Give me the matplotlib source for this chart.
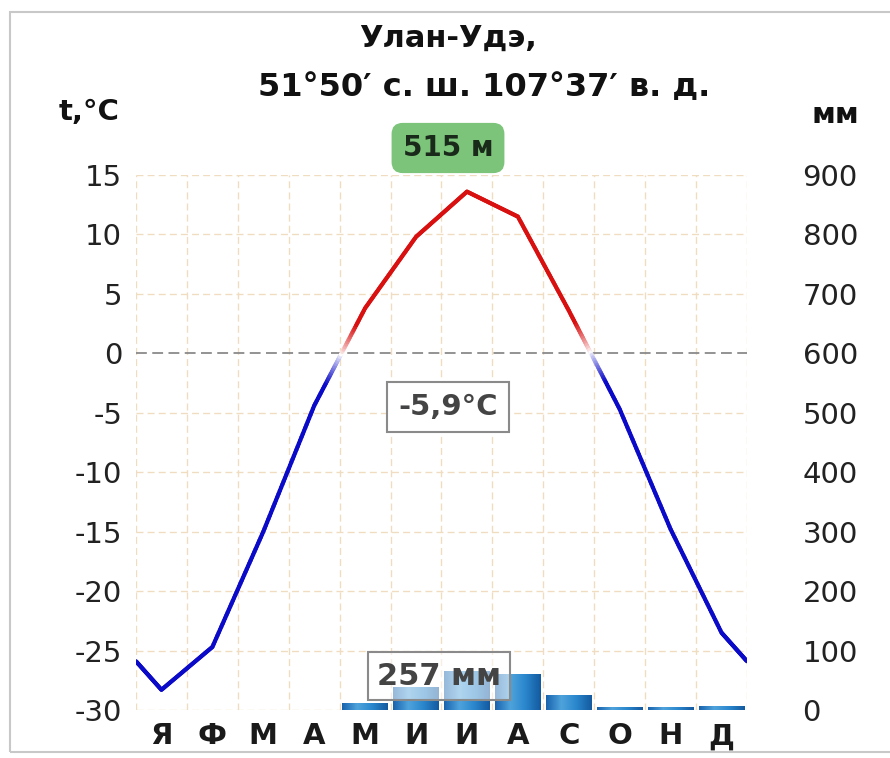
import numpy as np
import matplotlib
matplotlib.use("Agg")
import matplotlib.pyplot as plt
from matplotlib.collections import LineCollection
from matplotlib.colors import to_rgb, LinearSegmentedColormap
from matplotlib.patches import Rectangle

# ── Data ──────────────────────────────────────────────────────────────────────
MONTHS = ['Я', 'Ф', 'М', 'А', 'М', 'И', 'И', 'А', 'С', 'О', 'Н', 'Д']
TEMP   = [-28.3, -24.7, -15.0, -4.4, 3.8, 9.8, 13.6, 11.5, 3.6, -4.7, -14.8, -23.5]
PRECIP = [0, 0, 0, 0, 12, 38, 65, 60, 25, 5, 5, 6]

TITLE_1   = "Улан-Удэ,"
TITLE_2   = "51°50′ с. ш. 107°37′ в. д."
ALTITUDE  = "515 м"
MEAN_T    = "-5,9°C"
TOTAL_P   = "257 мм"

T_TICKS = list(range(-30, 16, 5))
P_TICKS = list(range(0, 901, 100))

RED   = "#d81010"
BLUE  = "#0a0ac8"
FADE  = 2.5   # °C band around zero where the line fades out

plt.rcParams['font.family'] = ['DejaVu Sans']
plt.rcParams['axes.unicode_minus'] = False

W, H = 890, 758
fig = plt.figure(figsize=(W / 100, H / 100), dpi=100)
fig.patch.set_facecolor("white")

# card frame
fig.patches.append(Rectangle((10 / W, 6 / H), 890 / W, 740 / H, transform=fig.transFigure,
                             fill=False, ec="#c8c8c8", lw=1.5))

L, R, T, B = 136, 747, 175, 710
ax = fig.add_axes([L / W, 1 - B / H, (R - L) / W, (B - T) / H])
ax2 = ax.twinx()

# ── Temperature axis ──────────────────────────────────────────────────────────
ax.set_xlim(0, 12)
ax.set_ylim(-30, 15)
ax.set_yticks(T_TICKS)
ax.set_yticklabels([str(t) for t in T_TICKS])
ax.set_xticks(np.arange(12) + 0.5)
ax.set_xticklabels(MONTHS, fontsize=21, fontweight="bold", color="#1a1a1a")
ax.tick_params(axis="x", length=0, pad=9)
ax.tick_params(axis="y", length=0, pad=10, labelsize=21, labelcolor="#222222")
for s in ax.spines.values():
    s.set_visible(False)

for x in range(13):
    ax.axvline(x, color="#f0dcc0", lw=1.0, ls=(0, (5, 3)), zorder=0)
for y in T_TICKS:
    if y != 0:
        ax.axhline(y, color="#f0dcc0", lw=1.0, ls=(0, (5, 3)), zorder=0)
ax.axhline(0, color="#8a8a8a", lw=1.3, ls=(0, (6, 3)), zorder=1)

# temperature line, wrapped at the year edges, faded near 0 °C
edge = (TEMP[0] + TEMP[-1]) / 2
xs = np.concatenate([[0], np.arange(12) + 0.5, [12]])
ys = np.concatenate([[edge], TEMP, [edge]])
segs, cols = [], []
red, blue, white = np.array(to_rgb(RED)), np.array(to_rgb(BLUE)), np.ones(3)
for i in range(len(xs) - 1):
    n = 40
    px = np.linspace(xs[i], xs[i + 1], n + 1)
    py = np.linspace(ys[i], ys[i + 1], n + 1)
    for j in range(n):
        tm = (py[j] + py[j + 1]) / 2
        base = red if tm > 0 else blue
        k = min(1.0, abs(tm) / FADE) ** 0.8
        cols.append(white * (1 - k) + base * k)
        segs.append([(px[j], py[j]), (px[j + 1], py[j + 1])])
lc = LineCollection(segs, colors=cols, linewidths=3.0, capstyle="round", zorder=3)
ax.add_collection(lc)

# ── Precipitation axis ────────────────────────────────────────────────────────
ax2.set_ylim(0, 900)
ax2.set_yticks(P_TICKS)
ax2.tick_params(axis="y", length=0, pad=40, labelsize=21, labelcolor="#222222")
for s in ax2.spines.values():
    s.set_visible(False)

bar_cmap = LinearSegmentedColormap.from_list("bar", ["#1a64ae", "#4fa3dc", "#2a86cc", "#145aa0"])
grad = np.linspace(0, 1, 64).reshape(1, -1)
bars = ax2.bar(np.arange(12) + 0.5, PRECIP, width=0.9, color="none", ec="none", zorder=2)
for b in bars:
    if b.get_height() <= 0:
        continue
    x0, w, h = b.get_x(), b.get_width(), b.get_height()
    im = ax2.imshow(grad, extent=(x0, x0 + w, 0, max(h, 3)), cmap=bar_cmap,
                    aspect="auto", zorder=2)
    clip = Rectangle((x0, 0), w, max(h, 3), transform=ax2.transData)
    im.set_clip_path(clip)
ax2.set_xlim(0, 12)
ax2.set_ylim(0, 900)

ax2.text(5.95, 57, TOTAL_P, ha="center", va="center", fontsize=22, fontweight="bold",
         color="#444444", zorder=6,
         bbox=dict(boxstyle="square,pad=0.3", fc=(1, 1, 1, 0.55), ec="#8a8a8a", lw=1.5))

# ── Titles and labels ─────────────────────────────────────────────────────────
fig.text(448 / W, 1 - 38 / H, TITLE_1, ha="center", va="center",
         fontsize=22, fontweight="bold", color="#111111")
fig.text(484 / W, 1 - 88 / H, TITLE_2, ha="center", va="center",
         fontsize=23, fontweight="bold", color="#111111")
fig.text(89 / W, 1 - 112 / H, "t,°C", ha="center", va="center",
         fontsize=21, fontweight="bold", color="#111111")
fig.text(835 / W, 1 - 115 / H, "мм", ha="center", va="center",
         fontsize=21, fontweight="bold", color="#111111")
fig.text(448 / W, 1 - 148 / H, ALTITUDE, ha="center", va="center",
         fontsize=20, fontweight="bold", color="#1a2a1a",
         bbox=dict(boxstyle="round,pad=0.4,rounding_size=0.4", fc="#7cc47a", ec="none"))
fig.text(448 / W, 1 - 407 / H, MEAN_T, ha="center", va="center",
         fontsize=21, fontweight="bold", color="#444444", zorder=6,
         bbox=dict(boxstyle="square,pad=0.38", fc="white", ec="#8a8a8a", lw=1.5))

fig.savefig("out.png", dpi=100)
